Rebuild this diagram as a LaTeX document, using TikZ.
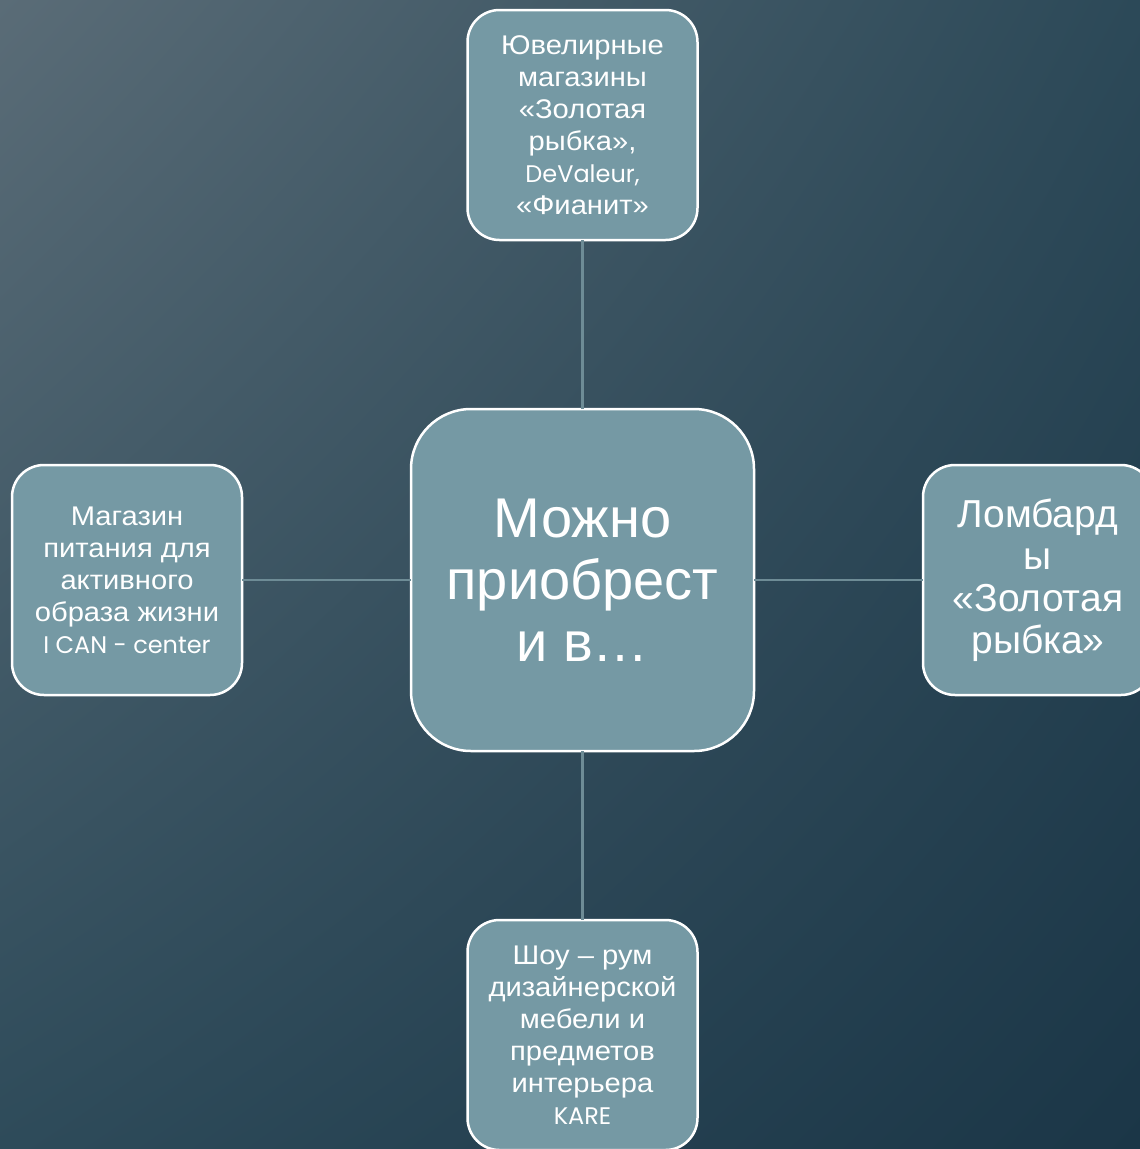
\documentclass[tikz,border=0pt]{standalone}
\usepackage{fontspec}
\setmainfont{Liberation Sans}
\newfontfamily\leaffont[FakeStretch=1.08,Ligatures=TeX]{Liberation Sans}
\newfontfamily\geofont{Poppins}
\usetikzlibrary{positioning,shadings}

\definecolor{bgtl}{RGB}{90,108,119}
\definecolor{bgtr}{RGB}{44,73,88}
\definecolor{bgbl}{RGB}{46,75,90}
\definecolor{bgbr}{RGB}{27,54,71}
\definecolor{boxfill}{RGB}{117,153,164}
\definecolor{spoke}{RGB}{110,140,150}

\begin{document}
\begin{tikzpicture}[x=1pt, y=-1pt,
        node distance=169pt,
        hub/.style={draw=white, line width=2.5pt, outer sep=0pt, fill=boxfill, rounded corners=60pt, minimum width=343pt, minimum height=342pt, align=center, text=white, inner sep=0pt, font=\fontsize{56}{62}\selectfont},
        leaf/.style={draw=white, line width=2.5pt, outer sep=0pt, fill=boxfill, rounded corners=32pt, minimum width=230pt, minimum height=230pt, align=center, text=white, inner sep=0pt, font=\leaffont\fontsize{27}{32}\selectfont},
        spokeline/.style={draw=spoke, line width=2.5pt}
    ]
        \useasboundingbox (0,0) rectangle (1140,1149);
        \clip (0,0) rectangle (1140,1149);
        \shade[shading=bilinear interpolation, upper left=bgtl, upper right=bgtr, lower left=bgbl, lower right=bgbr] (0,0) rectangle (1140,1149);

        \node[hub] (hub) at (582.5,580) {Можно\\приобрест\\и в\ldots};
        \node[leaf, above=of hub] (jewel) {Ювелирные\\магазины\\«Золотая\\рыбка»,\\{\geofont\fontsize{24}{32}\selectfont DeValeur,}\\«Фианит»};
        \node[leaf, left=of hub] (sport) {Магазин\\питания для\\активного\\образа жизни\\{\geofont\fontsize{24}{32}\selectfont I CAN - center}};
        \node[leaf, right=of hub, font=\fontsize{39}{42}\selectfont] (pawn) {Ломбард\\ы\\«Золотая\\рыбка»};
        \node[leaf, below=of hub] (decor) {Шоу – рум\\дизайнерской\\мебели и\\предметов\\интерьера\\{\geofont\fontsize{24}{32}\selectfont KARE}};

        \draw[spokeline] (hub) -- (jewel);
        \draw[spokeline] (hub) -- (sport);
        \draw[spokeline] (hub) -- (pawn);
        \draw[spokeline] (hub) -- (decor);
    \end{tikzpicture}
\end{document}
